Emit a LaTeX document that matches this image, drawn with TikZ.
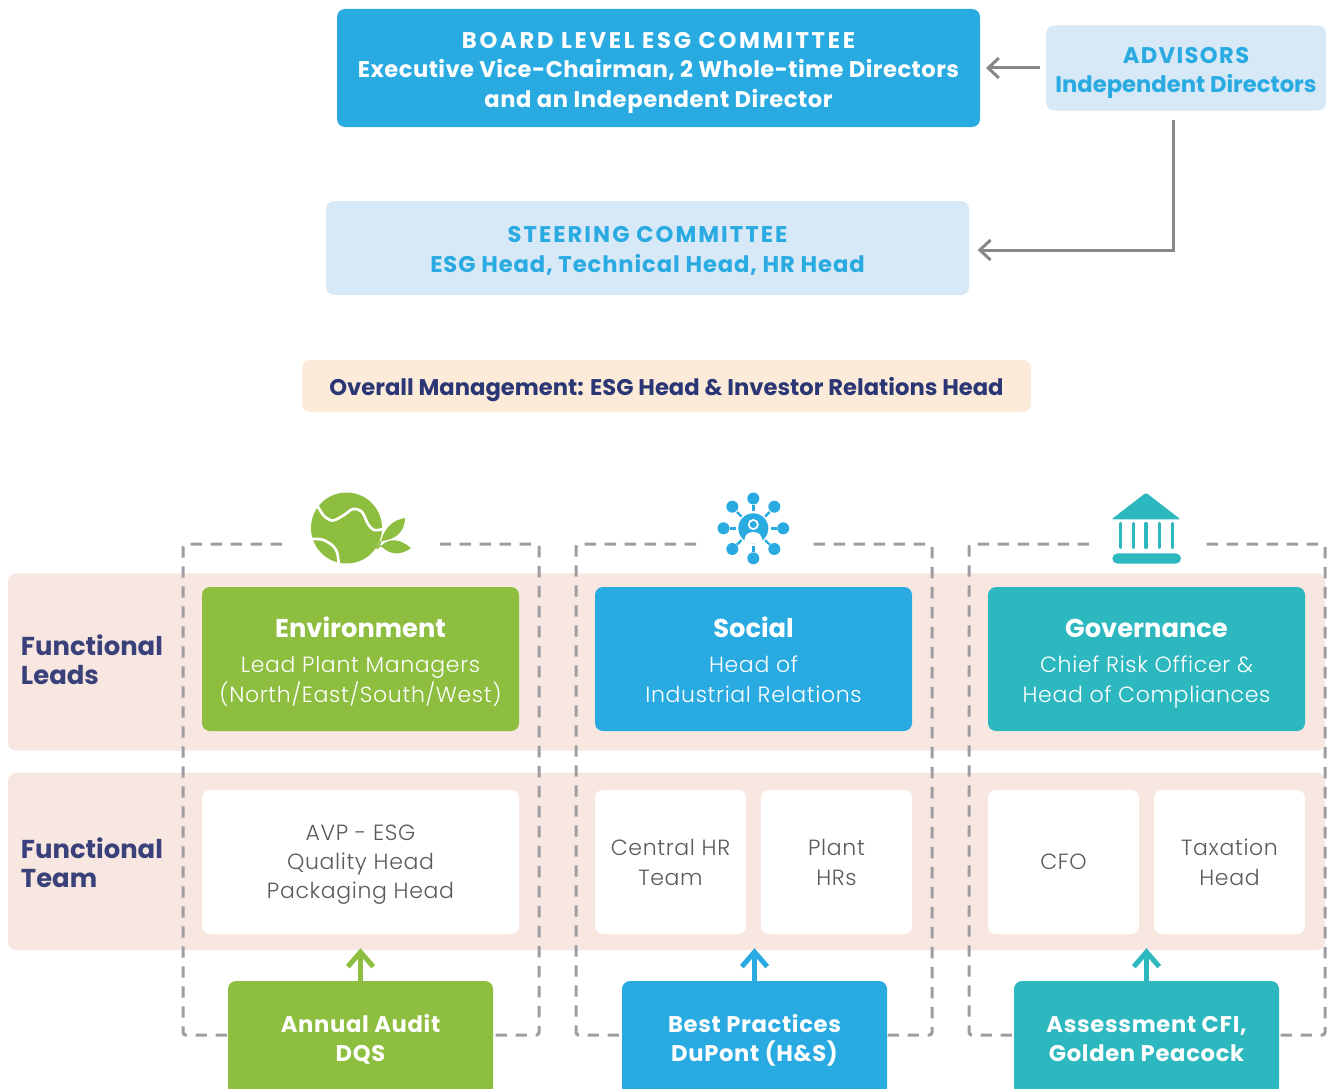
\documentclass[tikz,border=0pt]{standalone}
\usepackage{fontspec}
\setmainfont{Poppins}
\newfontfamily\lightfont{Poppins Light}[LetterSpace=3]
\newcommand\spaced[2]{{\addfontfeature{LetterSpace=#1}#2}}
\usepackage{tikz}
\usetikzlibrary{positioning}
\usetikzlibrary{arrows.meta}
\definecolor{skyblue}{HTML}{29ABE2}
\definecolor{paleblue}{HTML}{D7E8F6}
\definecolor{leafgreen}{HTML}{8DBE3F}
\definecolor{teal2}{HTML}{2DB8C0}
\definecolor{peach}{HTML}{FDEBDA}
\definecolor{bandpink}{HTML}{F7E7E0}
\definecolor{navy2}{HTML}{2B3674}
\definecolor{navy3}{HTML}{3A4079}
\definecolor{bodygrey}{HTML}{5A5A5A}
\definecolor{arrowgrey}{HTML}{87878A}
\definecolor{dashgrey}{HTML}{9D9DA2}
\tikzset{%
  b/.style = {rectangle,rounded corners=6pt,inner sep=0pt,outer sep=0pt,align=center},
  tb/.style = {execute at begin node={\rule{0pt}{#1}},execute at end node={\rule[-6pt]{0pt}{6pt}}},
  bigbold/.style = {b,font=\fontsize{17}{22}\selectfont\bfseries},
  lead/.style = {b,tb=71pt,minimum width=237.75pt,minimum height=108pt,text=white,
        font=\fontsize{16.5}{22.5}\lightfont},
  member/.style = {b,fill=white,minimum height=108pt,text=bodygrey,
        font=\fontsize{16.5}{22.5}\lightfont},
  review/.style = {b,tb=41pt,minimum width=198.75pt,minimum height=85.5pt,text=white,
        font=\fontsize{17}{21.5}\selectfont\bfseries\addfontfeature{LetterSpace=3}},
  band/.style = {b,fill=bandpink,minimum width=987.75pt,minimum height=133pt},
  rowlabel/.style = {inner sep=0pt,outer sep=0pt,anchor=west,align=left,text=navy3,
        font=\fontsize{19.4}{21.5}\selectfont\bfseries},
  greyarrow/.style = {-{Straight Barb[length=8pt,width=15pt]},arrowgrey,line width=2.25pt},
  uparrow/.style = {-{Straight Barb[length=11pt,width=19pt]},line width=3.75pt},
  frame/.style = {dashgrey,line width=2.25pt,rounded corners=2pt,dash pattern=on 8.5pt off 6.5pt}
}
\begin{document}
\begin{tikzpicture}[x=0.75pt,y=-0.75pt]
  \useasboundingbox (0,0) rectangle (1330,1088);
  \clip (0,0) rectangle (1330,1088);
  % top part
  \node[bigbold,tb=65pt,fill=skyblue,text=white,minimum width=482.25pt,minimum height=88.5pt] (board) at (658.5,68)
    {\spaced{12}{BOARD LEVEL ESG COMMITTEE}\\\spaced{2}{Executive Vice-Chairman, 2 Whole-time Directors}\\\spaced{2.6}{and an Independent Director}};
  \node[bigbold,tb=43pt,fill=paleblue,text=skyblue,minimum width=210pt,minimum height=63.75pt] (advisors) [right=49.5pt of board]
    {\spaced{6}{ADVISORS}\\Independent Directors};
  \node[bigbold,tb=42.25pt,fill=paleblue,text=skyblue,minimum width=482.25pt,minimum height=70.5pt] (steering) at (647.5,248)
    {\spaced{9}{STEERING COMMITTEE}\\\spaced{4}{ESG Head, Technical Head, HR Head}};
  \node[bigbold,tb=19.5pt,fill=peach,text=navy2,minimum width=546.75pt,minimum height=39pt] (overall) at (666.5,386)
    {Overall Management: ESG Head \& Investor Relations Head};
  \coordinate (bend) at (1173,250);
  \draw[greyarrow,shorten <=4.5pt,shorten >=4.5pt] (advisors) -- (board);
  \draw[greyarrow,shorten <=7pt,shorten >=6.5pt] (advisors.south -| bend) -- (bend) -- (bend -| steering.east);

  % bands and frames
  \node[band] (leadsband) at (666.5,662) {};
  \node[band] (teamband) at (666.5,861.5) {};
  \draw[frame] (282,544) -- (183,544) -- (183,1035) -- (539,1035) -- (539,544) -- (440,544);
  \draw[frame] (696,544) -- (576,544) -- (576,1035) -- (932,1035) -- (932,544) -- (812,544);
  \draw[frame] (1089,544) -- (969,544) -- (969,1035) -- (1325,1035) -- (1325,544) -- (1205,544);
  \node[rowlabel] (leadslabel) at (21,660) {Functional\\Leads};
  \node[rowlabel] (teamlabel) at (21,863) {Functional\\Team};

  % functional leads
  \node[lead,fill=leafgreen] (env) at (360.5,659)
    {{\fontsize{19.3}{24}\selectfont\bfseries\fontspec{Poppins}Environment}\\[3.5pt]Lead Plant Managers\\(North/East/South/West)};
  \node[lead,fill=skyblue] (social) [right=57pt of env]
    {{\fontsize{19.3}{24}\selectfont\bfseries\fontspec{Poppins}Social}\\[3.5pt]Head of\\Industrial Relations};
  \node[lead,fill=teal2] (gov) [right=57pt of social]
    {{\fontsize{19.3}{24}\selectfont\bfseries\fontspec{Poppins}Governance}\\[3.5pt]Chief Risk Officer \&\\Head of Compliances};

  % functional team
  \node[member,tb=60pt,minimum width=237.75pt] (avp) [below=44.25pt of env] {AVP - ESG\\[-0.75pt]Quality Head\\[-0.75pt]Packaging Head};
  \node[member,minimum width=113.25pt] (central) [below right=44.25pt and 0pt of social.south west] {Central HR\\Team};
  \node[member,minimum width=113.25pt] (plant) [right=11.25pt of central] {Plant\\HRs};
  \node[member,minimum width=113.25pt] (cfo) [below right=44.25pt and 0pt of gov.south west] {CFO};
  \node[member,minimum width=113.25pt] (tax) [right=11.25pt of cfo] {Taxation\\Head};

  % bottom row
  \node[review,fill=leafgreen] (audit) [below=35.25pt of avp] {Annual Audit\\DQS};
  \node[review,fill=skyblue] (practices) at (754.5,1038) {Best Practices\\DuPont (H\&S)};
  \node[review,fill=teal2] (assess) at (1146.5,1038) {Assessment CFI,\\Golden Peacock};
  \draw[uparrow,leafgreen,shorten >=-1.5pt] (audit.north) -- (audit.north |- teamband.south);
  \draw[uparrow,skyblue,shorten >=-1.5pt] (practices.north) -- (practices.north |- teamband.south);
  \draw[uparrow,teal2,shorten >=-1.5pt] (assess.north) -- (assess.north |- teamband.south);

  % environment icon
  \fill[leafgreen] (346.5,528) circle[radius=35.5];
  \draw[white,line width=2pt] plot[smooth] coordinates {(317,505) (324,516) (333,520.5) (344,515) (353,509) (362,512) (368,524) (374,530) (384,529)};
  \draw[white,line width=2pt] plot[smooth] coordinates {(311,539) (322,539.5) (332,545) (337,552) (339,565)};
  \fill[leafgreen] (381,541) .. controls (385,527) and (393,520) .. (405,518) .. controls (405,530) and (397,540) .. (381,541);
  \fill[leafgreen] (381,546) .. controls (390,537) and (400,539) .. (411,548) .. controls (400,556) and (390,555) .. (381,546);
  \draw[leafgreen,line width=1.2pt] (377,549) -- (381,541);
  \draw[leafgreen,line width=1.2pt] (376,547) -- (383,546);

  % social icon
  \draw[skyblue,line width=1.8pt] (753.3,505) -- (753.3,511) (753.3,552) -- (753.3,546);
  \draw[skyblue,line width=1.8pt] (730,528.3) -- (736,528.3) (777,528.3) -- (771,528.3);
  \draw[skyblue,line width=1.8pt] (737,512) -- (741.5,516.5) (769.6,512) -- (765.1,516.5);
  \draw[skyblue,line width=1.8pt] (737,544.6) -- (741.5,540.1) (769.6,544.6) -- (765.1,540.1);
  \fill[skyblue] (753.3,498.5) circle[radius=6] (753.3,558.3) circle[radius=6];
  \fill[skyblue] (723.5,528.3) circle[radius=6] (783.2,528.3) circle[radius=6];
  \fill[skyblue] (732.3,506.7) circle[radius=6] (774.3,506.7) circle[radius=6];
  \fill[skyblue] (732.3,549) circle[radius=6] (774.3,549) circle[radius=6];
  \fill[skyblue] (753.3,528.3) circle[radius=15];
  \fill[white] (753.3,524.5) circle[radius=5.5];
  \fill[skyblue] (753.3,524.5) circle[radius=3.5];
  \fill[white] (744.3,541) .. controls (744.5,535) and (748,532) .. (753.3,532) .. controls (758.6,532) and (762,535) .. (762.3,541) .. controls (758,544) and (749,544) .. (744.3,541);

  % governance icon
  \fill[teal2,rounded corners=1pt] (1146,492.7) -- (1180.5,519.3) -- (1111.5,519.3) -- cycle;
  \draw[teal2,line width=2.5pt,line cap=round] (1120.3,523.5) -- (1120.3,547.5) (1133.3,523.5) -- (1133.3,547.5)
    (1146,523.5) -- (1146,547.5) (1159.3,523.5) -- (1159.3,547.5) (1172.3,523.5) -- (1172.3,547.5);
  \fill[teal2,rounded corners=4pt] (1112.3,553.3) rectangle (1181,563.7);
\end{tikzpicture}
\end{document}
